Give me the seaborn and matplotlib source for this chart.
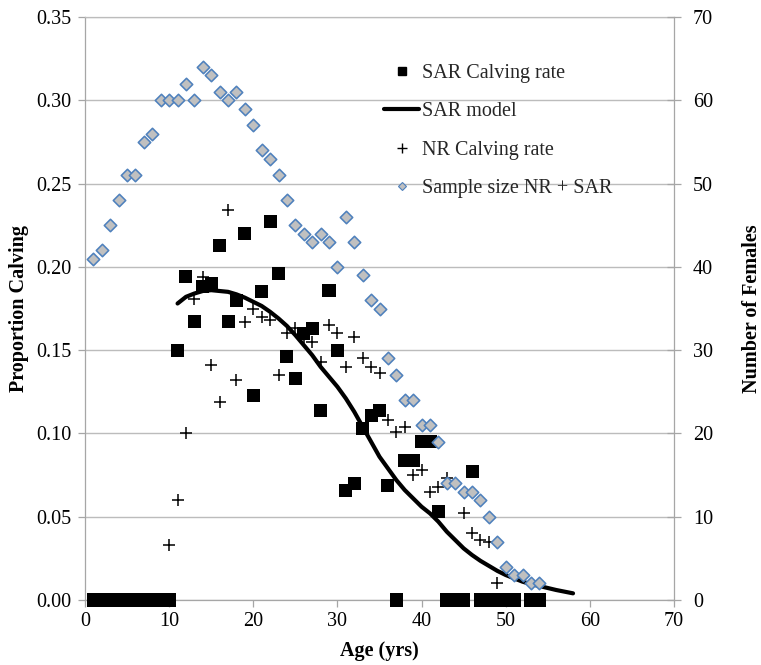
import matplotlib
matplotlib.use("Agg")
import matplotlib.pyplot as plt
from matplotlib.lines import Line2D
from matplotlib.ticker import FormatStrFormatter
import seaborn as sns

# SAR calving rate by age (yrs)
sar_age = list(range(1, 52)) + [53, 54]
sar_rate = [0, 0, 0, 0, 0, 0, 0, 0, 0, 0,
            0.150, 0.194, 0.167, 0.188, 0.190, 0.213, 0.167, 0.180, 0.220, 0.123,
            0.185, 0.227, 0.196, 0.146, 0.133, 0.160, 0.163, 0.114, 0.186, 0.150,
            0.066, 0.070, 0.103, 0.111, 0.114, 0.069, 0.000, 0.084, 0.084, 0.095,
            0.095, 0.053, 0, 0, 0, 0.077, 0, 0, 0, 0,
            0, 0, 0]

# SAR model fit
model_age = list(range(11, 59))
model_rate = [0.178, 0.182, 0.184, 0.1855, 0.186, 0.1855, 0.185, 0.1835, 0.1815, 0.179,
              0.1765, 0.173, 0.169, 0.1645, 0.159, 0.153, 0.147, 0.140, 0.134, 0.128,
              0.121, 0.113, 0.104, 0.095, 0.086, 0.079, 0.072, 0.066, 0.061, 0.056,
              0.052, 0.047, 0.041, 0.036, 0.031, 0.027, 0.0235, 0.0205, 0.0175, 0.015,
              0.013, 0.011, 0.0095, 0.0084, 0.0072, 0.006, 0.005, 0.004]

# NR calving rate by age
nr_age = list(range(10, 44)) + list(range(45, 50))
nr_rate = [0.033, 0.060, 0.100, 0.181, 0.194, 0.141, 0.119, 0.234, 0.132, 0.167,
           0.175, 0.170, 0.168, 0.135, 0.160, 0.163, 0.158, 0.155, 0.143, 0.165,
           0.160, 0.140, 0.158, 0.145, 0.140, 0.136, 0.108, 0.101, 0.104, 0.075,
           0.078, 0.065, 0.068, 0.073,
           0.052, 0.040, 0.036, 0.035, 0.010]

# Number of females sampled (NR + SAR)
size_age = list(range(1, 55))
size_n = [41, 42, 45, 48, 51, 51, 55, 56, 60, 60,
          60, 62, 60, 64, 63, 61, 60, 61, 59, 57,
          54, 53, 51, 48, 45, 44, 43, 44, 43, 40,
          46, 43, 39, 36, 35, 29, 27, 24, 24, 21,
          21, 19, 14, 14, 13, 13, 12, 10, 7, 4,
          3, 3, 2, 2]

legend_labels = ["SAR Calving rate", "SAR model", "NR Calving rate",
                 "Sample size NR + SAR"]

sns.set_theme(style="white")
plt.rcParams["font.family"] = ["Liberation Serif", "DejaVu Serif"]
plt.rcParams["axes.unicode_minus"] = False

FS = 14.5
AXIS_GRAY = "#a6a6a6"
GRID_GRAY = "#bcbcbc"
DIAMOND_FACE = "#c0c0c0"
DIAMOND_EDGE = "#4f81bd"

W, H = 761, 665
fig = plt.figure(figsize=(W / 100, H / 100), dpi=100)
ax = fig.add_axes([85 / W, 1 - 600 / H, 589 / W, 583 / H])
ax2 = ax.twinx()

sns.scatterplot(x=sar_age, y=sar_rate, marker="s", s=88, color="black",
                edgecolor="none", linewidth=0, ax=ax, clip_on=False,
                zorder=4, legend=False)
sns.scatterplot(x=nr_age, y=nr_rate, marker="+", s=80, color="black",
                edgecolor=None, linewidth=1.1, ax=ax, zorder=4, legend=False)
sns.lineplot(x=model_age, y=model_rate, color="black", linewidth=3,
             ax=ax, zorder=5, legend=False)
sns.scatterplot(x=size_age, y=size_n, marker="D", s=40, color=DIAMOND_FACE,
                edgecolor=DIAMOND_EDGE, linewidth=1.15, ax=ax2, clip_on=False,
                zorder=5, legend=False)

# Axes limits and ticks
ax.set_xlim(0, 70)
ax.set_ylim(0, 0.35)
ax2.set_ylim(0, 70)
ax.set_xticks(range(0, 71, 10))
ax.set_yticks([i * 0.05 for i in range(8)])
ax2.set_yticks(range(0, 71, 10))
ax.yaxis.set_major_formatter(FormatStrFormatter("%.2f"))

ax.yaxis.grid(True, color=GRID_GRAY, linewidth=1.0)
ax.set_axisbelow(True)
ax2.grid(False)

for name, sp in ax.spines.items():
    sp.set_color(AXIS_GRAY)
    sp.set_linewidth(0.9)
ax.spines["right"].set_visible(False)
ax.spines["top"].set_color(GRID_GRAY)
for name in ["left", "top", "bottom"]:
    ax2.spines[name].set_visible(False)
ax2.spines["right"].set_color(AXIS_GRAY)
ax2.spines["right"].set_linewidth(0.9)

ax.tick_params(axis="x", direction="out", length=5, width=0.9,
               color=AXIS_GRAY, pad=4, labelsize=FS, labelcolor="black",
               bottom=True)
ax.tick_params(axis="y", direction="out", length=5, width=0.9,
               color=AXIS_GRAY, pad=5, labelsize=FS, labelcolor="black",
               left=True)
ax2.tick_params(axis="y", direction="inout", length=9.4, width=0.9,
                color=AXIS_GRAY, pad=9, labelsize=FS, labelcolor="black",
                right=True)

ax.set_xlabel("Age (yrs)", fontsize=FS, fontweight="bold", color="black")
ax.set_ylabel("Proportion Calving", fontsize=FS, fontweight="bold", color="black")
ax2.set_ylabel("Number of Females", fontsize=FS, fontweight="bold", color="black")
ax.xaxis.set_label_coords(0.5, -0.07)
ax.yaxis.set_label_coords((29 - 85) / 589, 0.5)
ax2.yaxis.set_label_coords((742 - 85) / 589, 0.5)

handles = [
    Line2D([], [], ls="none", marker="s", ms=5.8, color="black"),
    Line2D([], [], color="black", lw=3),
    Line2D([], [], ls="none", marker="+", ms=6.5, mew=1.0, color="black"),
    Line2D([], [], ls="none", marker="D", ms=4.2, mfc=DIAMOND_FACE,
           mec=DIAMOND_EDGE, mew=0.8),
]
leg = ax2.legend(handles, legend_labels, loc="upper left",
                 bbox_to_anchor=(384 / W, 1 - 63.5 / H),
                 bbox_transform=fig.transFigure, frameon=False,
                 fontsize=FS, borderpad=0, borderaxespad=0,
                 handlelength=1.75, handletextpad=0.15, labelspacing=0.97)

fig.savefig("out.png", dpi=100)
